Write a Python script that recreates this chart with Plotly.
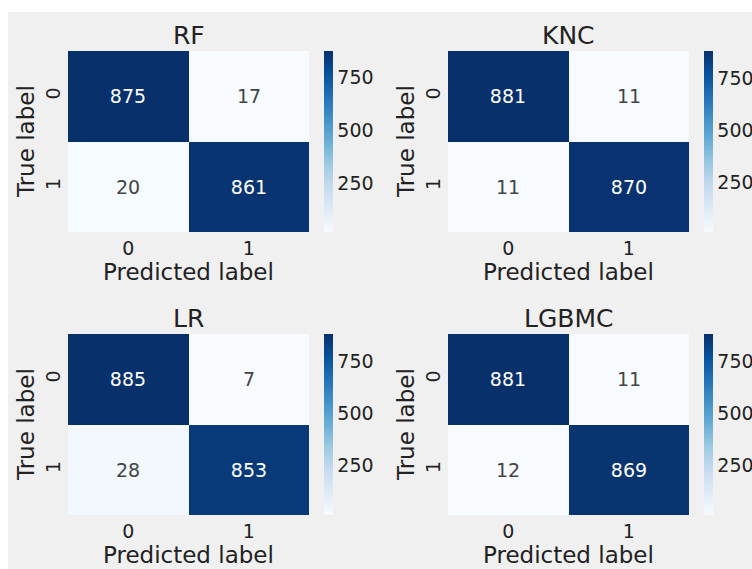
import plotly.graph_objects as go

# ---------------- data ----------------
model_names = ["RF", "KNC", "LR", "LGBMC"]
cm_rf = [[875, 17], [20, 861]]
cm_knc = [[881, 11], [11, 870]]
cm_lr = [[885, 7], [28, 853]]
cm_lgbmc = [[881, 11], [12, 869]]
class_labels = ["0", "1"]
colorbar_ticks = [250, 500, 750]
x_title = "Predicted label"
y_title = "True label"

matrices = [cm_rf, cm_knc, cm_lr, cm_lgbmc]

# ---------------- layout constants (pixels) ----------------
W, H = 752, 569
FONT = "DejaVu Sans"
TXT = "#222222"
BLUES = [
    [0.0, "#f7fbff"], [0.125, "#deebf7"], [0.25, "#c6dbef"],
    [0.375, "#9ecae1"], [0.5, "#6baed6"], [0.625, "#4292c6"],
    [0.75, "#2171b5"], [0.875, "#08519c"], [1.0, "#08306b"],
]
col_x = [(68, 309), (448, 689)]     # heatmap left/right px
row_y = [(51, 232), (334, 515)]     # heatmap top/bottom px
cbar_x = [324, 704]
cbar_w = 9


def px(x):
    return x / W


def py(y):
    return 1 - y / H


fig = go.Figure()
annotations = []
layout_axes = {}

for i, (name, z) in enumerate(zip(model_names, matrices)):
    r, c = divmod(i, 2)
    x0, x1 = col_x[c]
    y0, y1 = row_y[r]
    ax = "" if i == 0 else str(i + 1)
    fig.add_trace(go.Heatmap(
        z=z, x=class_labels, y=class_labels,
        colorscale=BLUES,
        texttemplate="%{z}",
        textfont=dict(family=FONT, size=19),
        xaxis="x" + ax, yaxis="y" + ax,
        hoverinfo="skip",
        colorbar=dict(
            x=px(cbar_x[c]), xanchor="left", xref="paper",
            y=py((y0 + y1) / 2), yanchor="middle",
            len=(y1 - y0) / H, lenmode="fraction",
            thickness=cbar_w, thicknessmode="pixels",
            xpad=0, ypad=0, outlinewidth=0,
            ticks="", ticklen=0, tickvals=colorbar_ticks,
            tickfont=dict(family=FONT, size=19, color=TXT),
        ),
    ))
    layout_axes["xaxis" + ax] = dict(
        domain=[px(x0), px(x1)], anchor="y" + ax,
        showgrid=False, zeroline=False, showline=False, ticks="",
        tickfont=dict(family=FONT, size=19, color=TXT),
        ticklabelstandoff=3, fixedrange=True,
    )
    layout_axes["yaxis" + ax] = dict(
        domain=[py(y1), py(y0)], anchor="x" + ax,
        autorange="reversed",
        showgrid=False, zeroline=False, showline=False, ticks="",
        tickangle=-90,
        tickfont=dict(family=FONT, size=19, color=TXT),
        ticklabelstandoff=3, fixedrange=True,
    )
    # subplot title
    annotations.append(dict(
        text=name, x=px((x0 + x1) / 2), y=py(y0 - 16),
        xref="paper", yref="paper", xanchor="center", yanchor="middle",
        showarrow=False, font=dict(family=FONT, size=25, color=TXT),
    ))
    # x axis title
    annotations.append(dict(
        text=x_title, x=px((x0 + x1) / 2), y=py(y1 + 40),
        xref="paper", yref="paper", xanchor="center", yanchor="middle",
        showarrow=False, font=dict(family=FONT, size=23, color=TXT),
    ))
    # y axis title
    annotations.append(dict(
        text=y_title, x=px(x0 - 42.5), y=py((y0 + y1) / 2),
        xref="paper", yref="paper", xanchor="center", yanchor="middle",
        textangle=-90,
        showarrow=False, font=dict(family=FONT, size=23, color=TXT),
    ))

fig.update_layout(
    width=W, height=H,
    margin=dict(l=0, r=0, t=0, b=0, pad=0),
    paper_bgcolor="white",
    plot_bgcolor="rgba(0,0,0,0)",
    font=dict(family=FONT, color=TXT),
    annotations=annotations,
    shapes=[dict(
        type="rect", xref="paper", yref="paper",
        x0=px(8), x1=1, y0=0, y1=py(12),
        fillcolor="#f0f0f0", line=dict(width=0), layer="below",
    )],
    **layout_axes,
)

fig.write_html("out.html")
